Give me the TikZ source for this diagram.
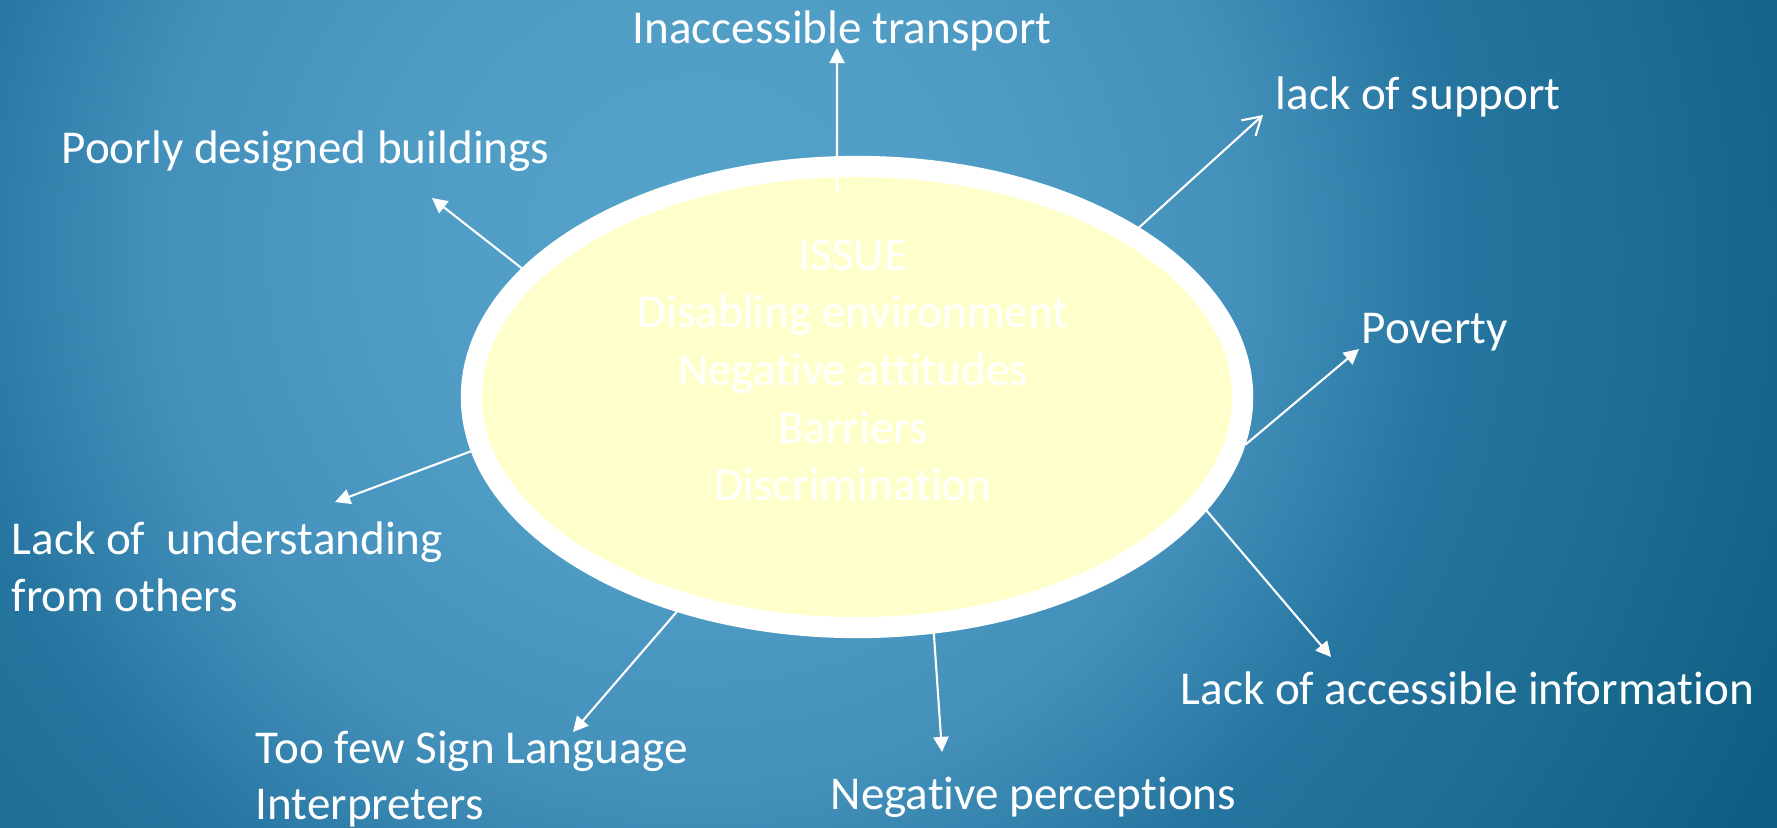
\documentclass[tikz,border=0pt]{standalone}
\usepackage{fontspec}
\setmainfont{Carlito}[Ligatures=NoCommon]
\usetikzlibrary{shapes.geometric,arrows.meta}
\definecolor{glowA}{HTML}{55A3CB}
\definecolor{glowB}{HTML}{4F9CC5}
\definecolor{glowC}{HTML}{4391BB}
\definecolor{glowD}{HTML}{2675A0}
\definecolor{glowE}{HTML}{1A6A90}
\definecolor{glowF}{HTML}{0B5B80}
\definecolor{issuefill}{HTML}{FFFFCC}
% 25bp is the edge of the shaded circle
\pgfdeclareradialshading{slideglow}{\pgfpoint{0bp}{0bp}}{color(0bp)=(glowA); color(5.75bp)=(glowB); color(10.5bp)=(glowC); color(14.5bp)=(glowD); color(19.25bp)=(glowE); color(24bp)=(glowF); color(50bp)=(glowF)}
\begin{document}
\begin{tikzpicture}[x=0.01cm,y=-0.01cm,font=\fontsize{13.4}{16.1}\selectfont,
    lbl/.style={text=white,inner sep=0,align=left},
    link/.style={white,line width=.6pt,-{Triangle[length=4.3pt,width=4.3pt]}}]
\useasboundingbox (0,0) rectangle (1777,827);
% backdrop
\begin{scope}
\clip (0,0) rectangle (1777,827);
\shade[shading=slideglow] (700,250) circle (13cm);
\end{scope}
% the issue in the middle
\node[ellipse,draw=white,fill=issuefill,line width=.21cm,outer sep=.105cm,inner sep=0,
    minimum width=7.71cm,minimum height=4.61cm] (issue) at (857,397) {};
\node[lbl,align=center,anchor=north,font=\fontsize{13.4}{16.4}\selectfont] (causes) at (853,239)
    {ISSUE\\Disabling environment\\Negative attitudes\\Barriers\\Discrimination};
% what comes out of it
\node[lbl,anchor=base west] (transport) at (632,43) {Inaccessible transport};
\node[lbl,anchor=base west] (support) at (1275,109) {lack of support};
\node[lbl,anchor=base west] (buildings) at (61,163) {Poorly designed buildings};
\node[lbl,anchor=base west] (poverty) at (1361,343) {Poverty};
\node[lbl,anchor=north west] (understanding) at (11,521) {Lack of~ understanding\\from others};
\node[lbl,anchor=north west] (signlang) at (255,730) {Too few Sign Language\\Interpreters};
\node[lbl,anchor=base west] (perceptions) at (830,809) {Negative perceptions};
\node[lbl,anchor=base west] (information) at (1180,704) {Lack of accessible information};
\coordinate (transport tip) at (837,48);
\coordinate (support tip) at (1263,115);
\coordinate (poverty tip) at (1359,349);
\coordinate (information tip) at (1331,657);
\coordinate (perceptions tip) at (942,752);
\coordinate (signlang tip) at (573,732);
\coordinate (understanding tip) at (335,502);
\coordinate (buildings tip) at (432,198);
\draw[link] ([xshift=-.2cm,yshift=-.37cm]issue.north) -- (transport tip);
\draw[link,-{Straight Barb[length=5pt,width=6pt]}] (issue.31) -- (support tip);
\draw[link] (issue.-7) -- (poverty tip);
\draw[link] (issue.-18) -- (information tip);
\draw[link] (issue.-72) -- (perceptions tip);
\draw[link] (issue.230) -- (signlang tip);
\draw[link] (issue.188) -- (understanding tip);
\draw[link] (issue.159) -- (buildings tip);
\end{tikzpicture}
\end{document}
